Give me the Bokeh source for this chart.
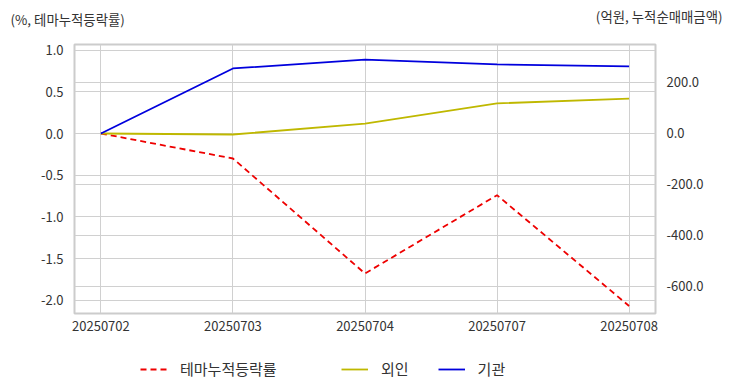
from bokeh.plotting import figure
from bokeh.layouts import column
from bokeh.models import (Range1d, LinearAxis, FixedTicker, NumeralTickFormatter, Grid,
                          Legend, LegendItem, Label, ColumnDataSource)
from bokeh.embed import file_html
from bokeh.resources import INLINE

dates = ["20250702", "20250703", "20250704", "20250707", "20250708"]
theme_cum = [0.0, -0.30, -1.68, -0.74, -2.07]
foreign = [0.0, -4.0, 39.0, 118.0, 137.0]
institution = [0.0, 255.0, 290.0, 271.0, 263.0]
left_ticks = [-2.0, -1.5, -1.0, -0.5, 0.0, 0.5, 1.0]
right_ticks = [-600, -400, -200, 0, 200]
series_names = ["테마누적등락률", "외인", "기관"]
left_title = "(%, 테마누적등락률)"
right_title = "(억원, 누적순매매금액)"

FONT = "Noto Sans CJK KR"
TXT = "#333333"
GRID = "#d0d0d0"
RED, YEL, BLU = "#ee0000", "#bfb800", "#0000dd"

xs = list(range(len(dates)))
src = ColumnDataSource(dict(x=xs, theme=theme_cum, foreign=foreign, inst=institution))

# ---- main chart
p = figure(width=732, height=340, output_backend="svg", toolbar_location=None,
           x_range=Range1d(-0.2, 4.2), y_range=Range1d(-2.16, 1.068),
           min_border_left=74, min_border_right=77, min_border_top=44, min_border_bottom=27)
p.extra_y_ranges = {"amt": Range1d(-706, 349)}
p.background_fill_color = "white"
p.outline_line_color = "#cccccc"
p.outline_line_width = 2

p.xaxis.ticker = FixedTicker(ticks=xs)
p.xaxis.major_label_overrides = {i: d for i, d in enumerate(dates)}
p.yaxis.ticker = FixedTicker(ticks=left_ticks)
p.yaxis.formatter = NumeralTickFormatter(format="0.0")
ra = LinearAxis(y_range_name="amt", ticker=FixedTicker(ticks=right_ticks),
                formatter=NumeralTickFormatter(format="0.0"))
p.add_layout(ra, "right")
for ax in [p.xaxis[0], p.yaxis[0], ra]:
    ax.axis_line_color = None
    ax.major_tick_line_color = None
    ax.minor_tick_line_color = None
    ax.major_label_text_font = FONT
    ax.major_label_text_font_size = "13px"
    ax.major_label_text_color = TXT
    ax.major_label_standoff = 5
p.xaxis.major_label_standoff = 1

p.xgrid.grid_line_color = GRID
p.ygrid.grid_line_color = GRID
p.add_layout(Grid(dimension=1, ticker=ra.ticker, y_range_name="amt", grid_line_color=GRID))

p.line("x", "theme", source=src, line_color=RED, line_width=1.8, line_dash="6 4")
p.line("x", "foreign", source=src, line_color=YEL, line_width=1.8, y_range_name="amt")
p.line("x", "inst", source=src, line_color=BLU, line_width=1.8, y_range_name="amt")

# axis captions in the top panel
p.add_layout(Label(x=-64, y=26, x_units="screen", y_units="screen", text=left_title,
                   text_font=FONT, text_font_size="13.4px", text_color=TXT,
                   text_baseline="middle"), "above")
p.add_layout(Label(x=648, y=9, x_units="screen", y_units="screen", text=right_title,
                   text_font=FONT, text_font_size="13.4px", text_color=TXT,
                   text_baseline="middle", text_align="right"), "above")

# ---- legend strip (its lines lie outside the strip's view; only the legend shows)
leg = figure(width=732, height=52, output_backend="svg", toolbar_location=None,
             x_axis_type=None, y_axis_type=None, x_range=Range1d(100, 101), y_range=Range1d(100, 101),
             min_border=0, min_border_left=0, min_border_right=0, min_border_top=0, min_border_bottom=0)
leg.outline_line_color = None
leg.grid.visible = False
l1 = leg.line("x", "theme", source=src, line_color=RED, line_width=1.8, line_dash="6 4")
l2 = leg.line("x", "foreign", source=src, line_color=YEL, line_width=1.8)
l3 = leg.line("x", "inst", source=src, line_color=BLU, line_width=1.8)
common = dict(orientation="horizontal", border_line_color=None, background_fill_alpha=0,
              padding=0, margin=0, glyph_width=27, glyph_height=14, label_height=14,
              label_standoff=13, spacing=29, label_text_font=FONT,
              label_text_font_size="15px", label_text_color=TXT)
leg.add_layout(Legend(items=[LegendItem(label=series_names[0], renderers=[l1])],
                      location=(66, 13), **common))
leg.add_layout(Legend(items=[LegendItem(label=series_names[1], renderers=[l2]),
                             LegendItem(label=series_names[2], renderers=[l3])],
                      location=(267, 13), **common))

layout = column(p, leg, spacing=0)
open("out.html", "w").write(file_html(layout, INLINE))
